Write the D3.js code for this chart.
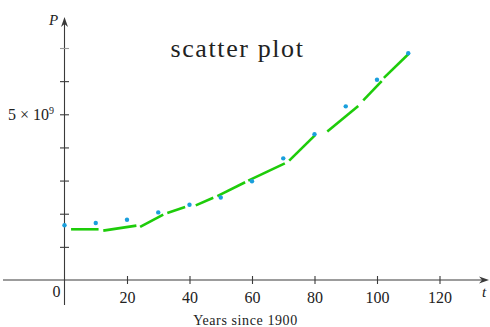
<!DOCTYPE html>
<html>
<head>
<meta charset="utf-8">
<script src="https://cdn.jsdelivr.net/npm/d3@7"></script>
<style>
  html, body { margin: 0; padding: 0; background: #fff; }
  svg { display: block; }
  svg text { font-family: "Liberation Serif", "DejaVu Serif", serif !important; fill: #222; }
</style>
</head>
<body>
<svg id="chart" width="490" height="327"></svg>
<script>
// Years since 1900 and world population (billions)
const years = [0, 10, 20, 30, 40, 50, 60, 70, 80, 90, 100, 110];
const population = [1.65, 1.72, 1.82, 2.04, 2.27, 2.49, 2.98, 3.67, 4.40, 5.24, 6.04, 6.84];

// Dashed model curve: each dash as [t0, P0, t1, P1]
const modelDashes = [
  [2.1, 1.53, 10.9, 1.53],
  [12.4, 1.49, 23.0, 1.64],
  [24.2, 1.60, 31.6, 1.97],
  [32.9, 2.02, 38.6, 2.20],
  [42.0, 2.25, 47.6, 2.48],
  [48.9, 2.53, 57.8, 2.95],
  [58.8, 3.00, 70.5, 3.52],
  [71.9, 3.60, 80.2, 4.37],
  [84.1, 4.48, 94.0, 5.25],
  [95.6, 5.42, 101.5, 6.00],
  [102.2, 6.10, 110.0, 6.81]
];

const xTicks = [20, 40, 60, 80, 100, 120];
const yTicks = [1, 2, 3, 4, 5, 6, 7];

const svg = d3.select("#chart");
const x = d3.scaleLinear().domain([0, 120]).range([64.5, 439.5]);
const y = d3.scaleLinear().domain([0, 7]).range([280, 48]);

const axisColor = "#3a3a3a";
const serif = "'Liberation Serif', 'DejaVu Serif', serif";

// axis lines
svg.append("line")
  .attr("x1", 3).attr("x2", 484).attr("y1", y(0)).attr("y2", y(0))
  .attr("stroke", axisColor).attr("stroke-width", 1.1);
svg.append("line")
  .attr("x1", x(0)).attr("x2", x(0)).attr("y1", 305).attr("y2", 22)
  .attr("stroke", axisColor).attr("stroke-width", 1.1);

// arrow heads
svg.append("path")
  .attr("d", `M489,${y(0)} L479,${y(0) - 3.5} L482,${y(0)} L479,${y(0) + 3.5} Z`)
  .attr("fill", axisColor);
svg.append("path")
  .attr("d", `M${x(0)},17 L${x(0) - 3.5},27 L${x(0)},24 L${x(0) + 3.5},27 Z`)
  .attr("fill", axisColor);

// x axis ticks and labels
const xAxis = d3.axisBottom(x).tickValues(xTicks).tickSize(4).tickPadding(10)
  .tickFormat(d3.format("d"));
const gx = svg.append("g").attr("transform", `translate(0,${y(0)})`).call(xAxis)
  .attr("font-family", serif).attr("font-size", 16);
gx.select(".domain").remove();
gx.selectAll(".tick line").attr("y1", -4).attr("y2", 4)
  .attr("stroke", axisColor).attr("stroke-width", 1.1);
gx.selectAll(".tick text")
  .style("font-family", serif).style("font-size", "16px")
  .attr("fill", "#222").attr("dy", null).attr("y", 23);

// y axis ticks
const yAxis = d3.axisLeft(y).tickValues(yTicks).tickSize(4).tickFormat("");
const gy = svg.append("g").attr("transform", `translate(${x(0)},0)`).call(yAxis);
gy.select(".domain").remove();
gy.selectAll(".tick line").attr("x1", -4.5).attr("x2", 4.5)
  .attr("stroke", axisColor).attr("stroke-width", 1.1);
gy.selectAll(".tick line").filter(d => d === 7).attr("stroke", "#999");

// origin label
svg.append("text").attr("x", x(0) - 8).attr("y", 296.5)
  .attr("text-anchor", "middle").style("font-size", "16px").text("0");

// 5 × 10^9 label
const yl = svg.append("text").attr("x", 8).attr("y", y(5) + 5.5)
  .style("font-size", "16px");
yl.append("tspan").text("5 × 10");
yl.append("tspan").style("font-size", "10px").attr("dy", -6).text("9");

// axis letters
svg.append("text").attr("x", 49).attr("y", 25)
  .style("font-size", "15px").style("font-style", "italic").text("P");
svg.append("text").attr("x", 482).attr("y", 297)
  .style("font-size", "15px").style("font-style", "italic").text("t");

// x axis title
svg.append("text").attr("x", 245.5).attr("y", 325)
  .attr("text-anchor", "middle").style("font-size", "14px")
  .attr("letter-spacing", 0.6).text("Years since 1900");

// title
svg.append("text").attr("x", 237.5).attr("y", 57)
  .attr("text-anchor", "middle").style("font-size", "26px")
  .attr("letter-spacing", 1.6).text("scatter plot");

// model dashes
svg.append("g").selectAll("line").data(modelDashes).join("line")
  .attr("x1", d => x(d[0])).attr("y1", d => y(d[1]))
  .attr("x2", d => x(d[2])).attr("y2", d => y(d[3]))
  .attr("stroke", "#1ecc0a").attr("stroke-width", 2.6);

// data points
svg.append("g").selectAll("circle").data(years.map((t, i) => [t, population[i]]))
  .join("circle")
  .attr("cx", d => x(d[0])).attr("cy", d => y(d[1])).attr("r", 2.2)
  .attr("fill", "#1a9fdc");
</script>
</body>
</html>
